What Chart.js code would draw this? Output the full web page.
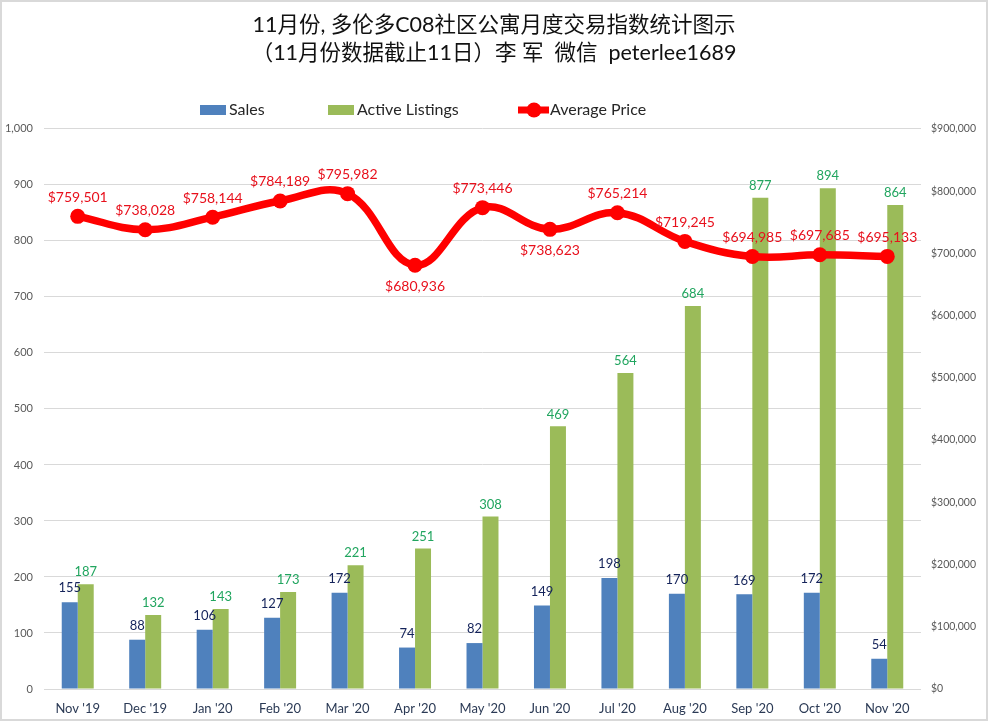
<!DOCTYPE html>
<html>
<head>
<meta charset="utf-8">
<script src="https://cdn.jsdelivr.net/npm/chart.js@4"></script>
<style>
    body { margin: 0; background: #fff; }
    #wrap { position: relative; width: 988px; height: 721px; overflow: hidden; }
    #frame { position: absolute; left: 0; top: 0; right: 0; bottom: 0; border: 2px solid #d9d9d9; pointer-events: none; }
</style>
</head>
<body>
<div id="wrap">
    <canvas id="chart" width="988" height="721"></canvas>
    <div id="frame"></div>
</div>
<script>
const months = ["Nov '19", "Dec '19", "Jan '20", "Feb '20", "Mar '20", "Apr '20", "May '20", "Jun '20", "Jul '20", "Aug '20", "Sep '20", "Oct '20", "Nov '20"];
const sales = [155, 88, 106, 127, 172, 74, 82, 149, 198, 170, 169, 172, 54];
const listings = [187, 132, 143, 173, 221, 251, 308, 469, 564, 684, 877, 894, 864];
const prices = [759501, 738028, 758144, 784189, 795982, 680936, 773446, 738623, 765214, 719245, 694985, 697685, 695133];
const titleLines = ["11月份, 多伦多C08社区公寓月度交易指数统计图示", "（11月份数据截止11日）李 军  微信  peterlee1689"];

// price labels that sit under the line instead of over it
const priceBelow = ["Apr '20", "Jun '20"];

const FONT = "Lato, 'Noto Sans CJK SC', sans-serif";
const BLUE = '#4f81bd';
const GREEN = '#9bbb59';
const RED = '#ff0000';

// --- value labels over the bars and the line ---
const valueLabels = {
    id: 'valueLabels',
    afterDatasetsDraw(chart) {
        const ctx = chart.ctx;
        ctx.save();
        ctx.textAlign = 'center';
        ctx.textBaseline = 'middle';

        ctx.font = '13px ' + FONT;
        ctx.fillStyle = '#14235a';
        chart.getDatasetMeta(0).data.forEach((bar, i) => {
            ctx.fillText(sales[i], bar.x, bar.y - 14);
        });

        ctx.fillStyle = '#21a55f';
        chart.getDatasetMeta(1).data.forEach((bar, i) => {
            ctx.fillText(listings[i], bar.x, bar.y - 12);
        });

        ctx.font = '14px ' + FONT;
        ctx.fillStyle = '#e8101c';
        chart.getDatasetMeta(2).data.forEach((pt, i) => {
            const dy = priceBelow.includes(months[i]) ? 21 : -19;
            ctx.fillText('$' + prices[i].toLocaleString('en-US'), pt.x, pt.y + dy);
        });
        ctx.restore();
    }
};

// --- legend drawn by hand, Excel keeps the text tight to the swatch ---
const topLegend = {
    id: 'topLegend',
    afterDraw(chart) {
        const ctx = chart.ctx;
        const y = 110;
        ctx.save();
        ctx.font = '16px ' + FONT;
        ctx.textBaseline = 'middle';
        ctx.fillStyle = BLUE;
        ctx.fillRect(200, y - 5, 26, 10);
        ctx.fillStyle = GREEN;
        ctx.fillRect(328, y - 5, 26, 10);
        ctx.strokeStyle = RED;
        ctx.lineWidth = 7;
        ctx.beginPath();
        ctx.moveTo(518, y);
        ctx.lineTo(549, y);
        ctx.stroke();
        ctx.fillStyle = RED;
        ctx.beginPath();
        ctx.arc(534, y, 7.5, 0, Math.PI * 2);
        ctx.fill();
        ctx.fillStyle = '#262626';
        ctx.fillText(chart.data.datasets[0].label, 229, y);
        ctx.fillText(chart.data.datasets[1].label, 357, y);
        ctx.fillText(chart.data.datasets[2].label, 550, y);
        ctx.restore();
    }
};

new Chart(document.getElementById('chart'), {
    type: 'bar',
    data: {
        labels: months,
        datasets: [
            { label: 'Sales', data: sales, backgroundColor: BLUE, yAxisID: 'y', order: 1, categoryPercentage: 0.474, barPercentage: 1 },
            { label: 'Active Listings', data: listings, backgroundColor: GREEN, yAxisID: 'y', order: 2, categoryPercentage: 0.474, barPercentage: 1 },
            {
                label: 'Average Price', data: prices, type: 'line', yAxisID: 'y2', order: 0,
                borderColor: RED, backgroundColor: RED, borderWidth: 7.5, tension: 0.4,
                pointRadius: 7.5, pointBackgroundColor: RED, pointBorderWidth: 0
            }
        ]
    },
    options: {
        responsive: false,
        animation: false,
        devicePixelRatio: 1,
        layout: { padding: 0 },
        plugins: {
            legend: { display: false },
            tooltip: { enabled: false },
            title: {
                display: true,
                text: titleLines,
                color: '#111111',
                font: { family: FONT, size: 21.5, weight: 'normal', lineHeight: 1.3 },
                padding: { top: 11, bottom: 62 }
            }
        },
        scales: {
            x: {
                grid: { display: false },
                border: { display: false },
                ticks: { color: '#2b3a55', font: { family: FONT, size: 13 }, padding: 4, maxRotation: 0 },
                afterFit(scale) { scale.height = 32; }
            },
            y: {
                position: 'left',
                min: 0, max: 1000,
                grid: { color: '#d9d9d9', drawTicks: false },
                border: { display: false },
                ticks: {
                    stepSize: 100, color: '#595959', padding: 11,
                    font: { family: FONT, size: 11 },
                    callback: v => v.toLocaleString('en-US')
                },
                afterFit(scale) { scale.width = 44; }
            },
            y2: {
                position: 'right',
                min: 0, max: 900000,
                grid: { display: false, drawTicks: false },
                border: { display: false },
                ticks: {
                    stepSize: 100000, color: '#595959', padding: 10,
                    font: { family: FONT, size: 10.5 },
                    callback: v => '$' + v.toLocaleString('en-US')
                },
                afterFit(scale) { scale.width = 67; }
            }
        }
    },
    plugins: [valueLabels, topLegend]
});
</script>
</body>
</html>
